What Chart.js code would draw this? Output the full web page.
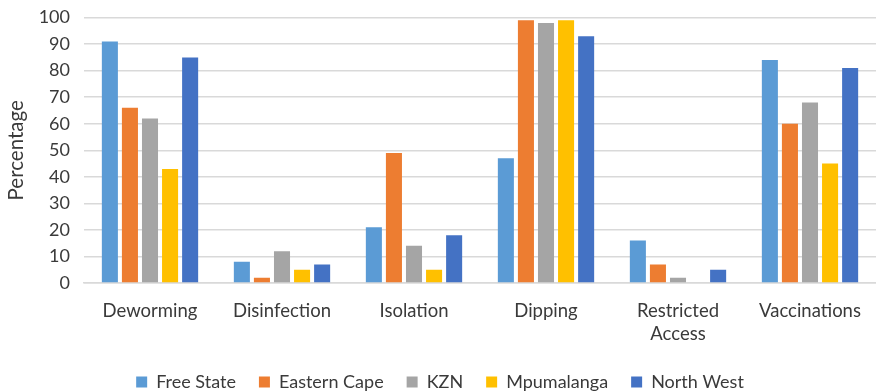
<!DOCTYPE html>
<html>
<head>
<meta charset="utf-8">
<script src="https://cdn.jsdelivr.net/npm/chart.js@4/dist/chart.umd.min.js"></script>
<style>
  html, body { margin: 0; padding: 0; background: #fff; overflow: hidden; }
  #wrap { width: 876px; height: 392px; }
</style>
</head>
<body>
<div id="wrap"><canvas id="c"></canvas></div>
<script>
const categories = ['Deworming', 'Disinfection', 'Isolation', 'Dipping', ['Restricted', 'Access'], 'Vaccinations'];
const freeState   = [91, 8, 21, 47, 16, 84];
const easternCape = [66, 2, 49, 99, 7, 60];
const kzn         = [62, 12, 14, 98, 2, 68];
const mpumalanga  = [43, 5, 5, 99, 0, 45];
const northWest   = [85, 7, 18, 93, 5, 81];
const yTicks = [0, 10, 20, 30, 40, 50, 60, 70, 80, 90, 100];

const FONT = "Lato, 'Liberation Sans', sans-serif";
const TEXT = '#3a3a3a';

// Legend items keep wide horizontal gaps, but the block sits lower than
// the shared padding would place it.
const LEGEND_TRIM = 9;
const legendTrim = {
  id: 'legendTrim',
  beforeUpdate(chart) {
    const lg = chart.legend;
    if (lg && !lg._trimmed) {
      const fit = lg.fit;
      lg.fit = function () {
        fit.call(this);
        this.height -= LEGEND_TRIM;
      };
      lg._trimmed = true;
    }
  }
};

function ds(label, data, color) {
  return { label, data, backgroundColor: color, borderWidth: 0,
           categoryPercentage: 0.76, barPercentage: 0.8 };
}

new Chart(document.getElementById('c'), {
  type: 'bar',
  data: {
    labels: categories,
    datasets: [
      ds('Free State', freeState, '#5B9BD5'),
      ds('Eastern Cape', easternCape, '#ED7D31'),
      ds('KZN', kzn, '#A5A5A5'),
      ds('Mpumalanga', mpumalanga, '#FFC000'),
      ds('North West', northWest, '#4472C4')
    ]
  },
  plugins: [legendTrim],
  options: {
    responsive: true,
    maintainAspectRatio: false,
    animation: false,
    layout: { padding: { top: 0, right: 0, left: 4, bottom: 0 } },
    plugins: {
      tooltip: { enabled: false },
      legend: {
        position: 'bottom',
        labels: {
          font: { family: FONT, size: 18 },
          color: TEXT,
          boxWidth: 11,
          boxHeight: 11,
          padding: 23
        }
      }
    },
    scales: {
      x: {
        afterFit: s => { s.height = 67; },
        grid: { display: false },
        border: { color: '#d9d9d9', width: 1.5 },
        ticks: { font: { family: FONT, size: 18.5, lineHeight: 1.25 }, color: TEXT, maxRotation: 0, autoSkip: false, padding: 8 }
      },
      y: {
        min: 0, max: 100,
        afterFit: s => { s.width = 80; },
        afterBuildTicks: s => { s.ticks = yTicks.map(v => ({ value: v })); },
        grid: { color: '#d9d9d9', lineWidth: 1.5, drawTicks: false },
        border: { display: false },
        ticks: { font: { family: FONT, size: 18, lineHeight: 0.4 }, color: TEXT, padding: 14 },
        title: { display: true, text: 'Percentage', font: { family: FONT, size: 20.5 }, color: TEXT, padding: { top: 0, bottom: 4 } }
      }
    }
  }
});
</script>
</body>
</html>
